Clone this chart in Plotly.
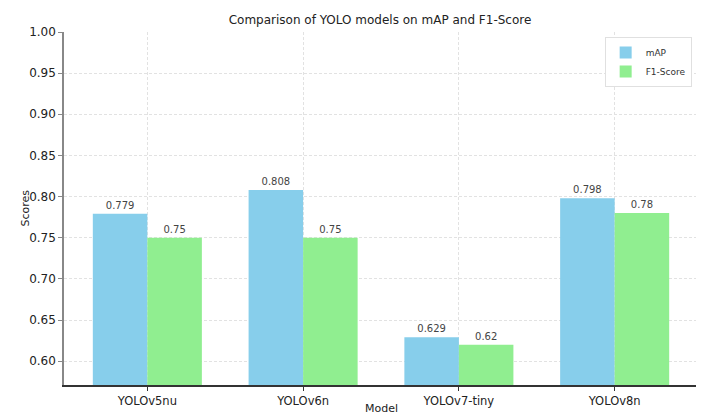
import plotly.graph_objects as go

# Data
models = ["YOLOv5nu", "YOLOv6n", "YOLOv7-tiny", "YOLOv8n"]
map_scores = [0.779, 0.808, 0.629, 0.798]
f1_scores = [0.75, 0.75, 0.62, 0.78]
y_ticks = [0.60, 0.65, 0.70, 0.75, 0.80, 0.85, 0.90, 0.95, 1.00]

font = "DejaVu Sans"

fig = go.Figure()
fig.add_trace(go.Bar(
    x=models, y=map_scores, name="mAP",
    marker=dict(color="#87CEEB", line=dict(width=0)),
    text=[f"{v:g}" for v in map_scores], textposition="outside",
    textfont=dict(size=10, color="#444", family=font), cliponaxis=False,
))
fig.add_trace(go.Bar(
    x=models, y=f1_scores, name="F1-Score",
    marker=dict(color="#90EE90", line=dict(width=0)),
    text=[f"{v:g}" for v in f1_scores], textposition="outside",
    textfont=dict(size=10, color="#444", family=font), cliponaxis=False,
))

# the page body adds an 8px offset, so the figure is sized 8px smaller
fig.update_layout(
    width=696, height=409,
    margin=dict(l=56, r=6, t=24, b=32),
    paper_bgcolor="white", plot_bgcolor="white",
    font=dict(family=font, size=11, color="#222"),
    barmode="group", bargap=0.3, bargroupgap=0,
    title=dict(text="Comparison of YOLO models on mAP and F1-Score",
               x=0.5345, xanchor="center", y=0.9707, yanchor="middle",
               font=dict(size=12, color="#222")),
    legend=dict(x=0.99, xanchor="right", y=0.986, yanchor="top",
                bgcolor="white", bordercolor="#e0e0e0", borderwidth=1,
                itemwidth=30, tracegroupgap=0,
                font=dict(size=9, color="#333")),
    uniformtext=dict(minsize=8, mode="show"),
)
fig.update_xaxes(
    range=[-0.535, 3.535], automargin=False,
    showgrid=True, gridcolor="#e2e2e2", griddash="3px,2px", gridwidth=1,
    showline=True, linecolor="#333", linewidth=1.5,
    ticks="outside", ticklen=4, tickcolor="#333",
    tickfont=dict(size=11.5, color="#222"),
)
fig.update_yaxes(
    range=[0.571, 1.0], tickvals=y_ticks, tickformat=".2f", automargin=False,
    showgrid=True, gridcolor="#e2e2e2", griddash="3px,2px", gridwidth=1,
    showline=True, linecolor="#888", linewidth=1.5,
    ticks="outside", ticklen=4, tickcolor="#888",
    tickfont=dict(size=12, color="#222"),
    zeroline=False,
)

# axis titles placed as annotations for exact positioning
fig.add_annotation(text="Model", xref="paper", yref="paper", x=0.5, y=-0.0652,
                   yanchor="middle", showarrow=False, font=dict(size=11, color="#222"))
fig.add_annotation(text="Scores", xref="paper", yref="paper", x=-0.0615, y=0.5,
                   xanchor="center", textangle=-90, showarrow=False,
                   font=dict(size=11, color="#222"))

fig.write_html("out.html")
